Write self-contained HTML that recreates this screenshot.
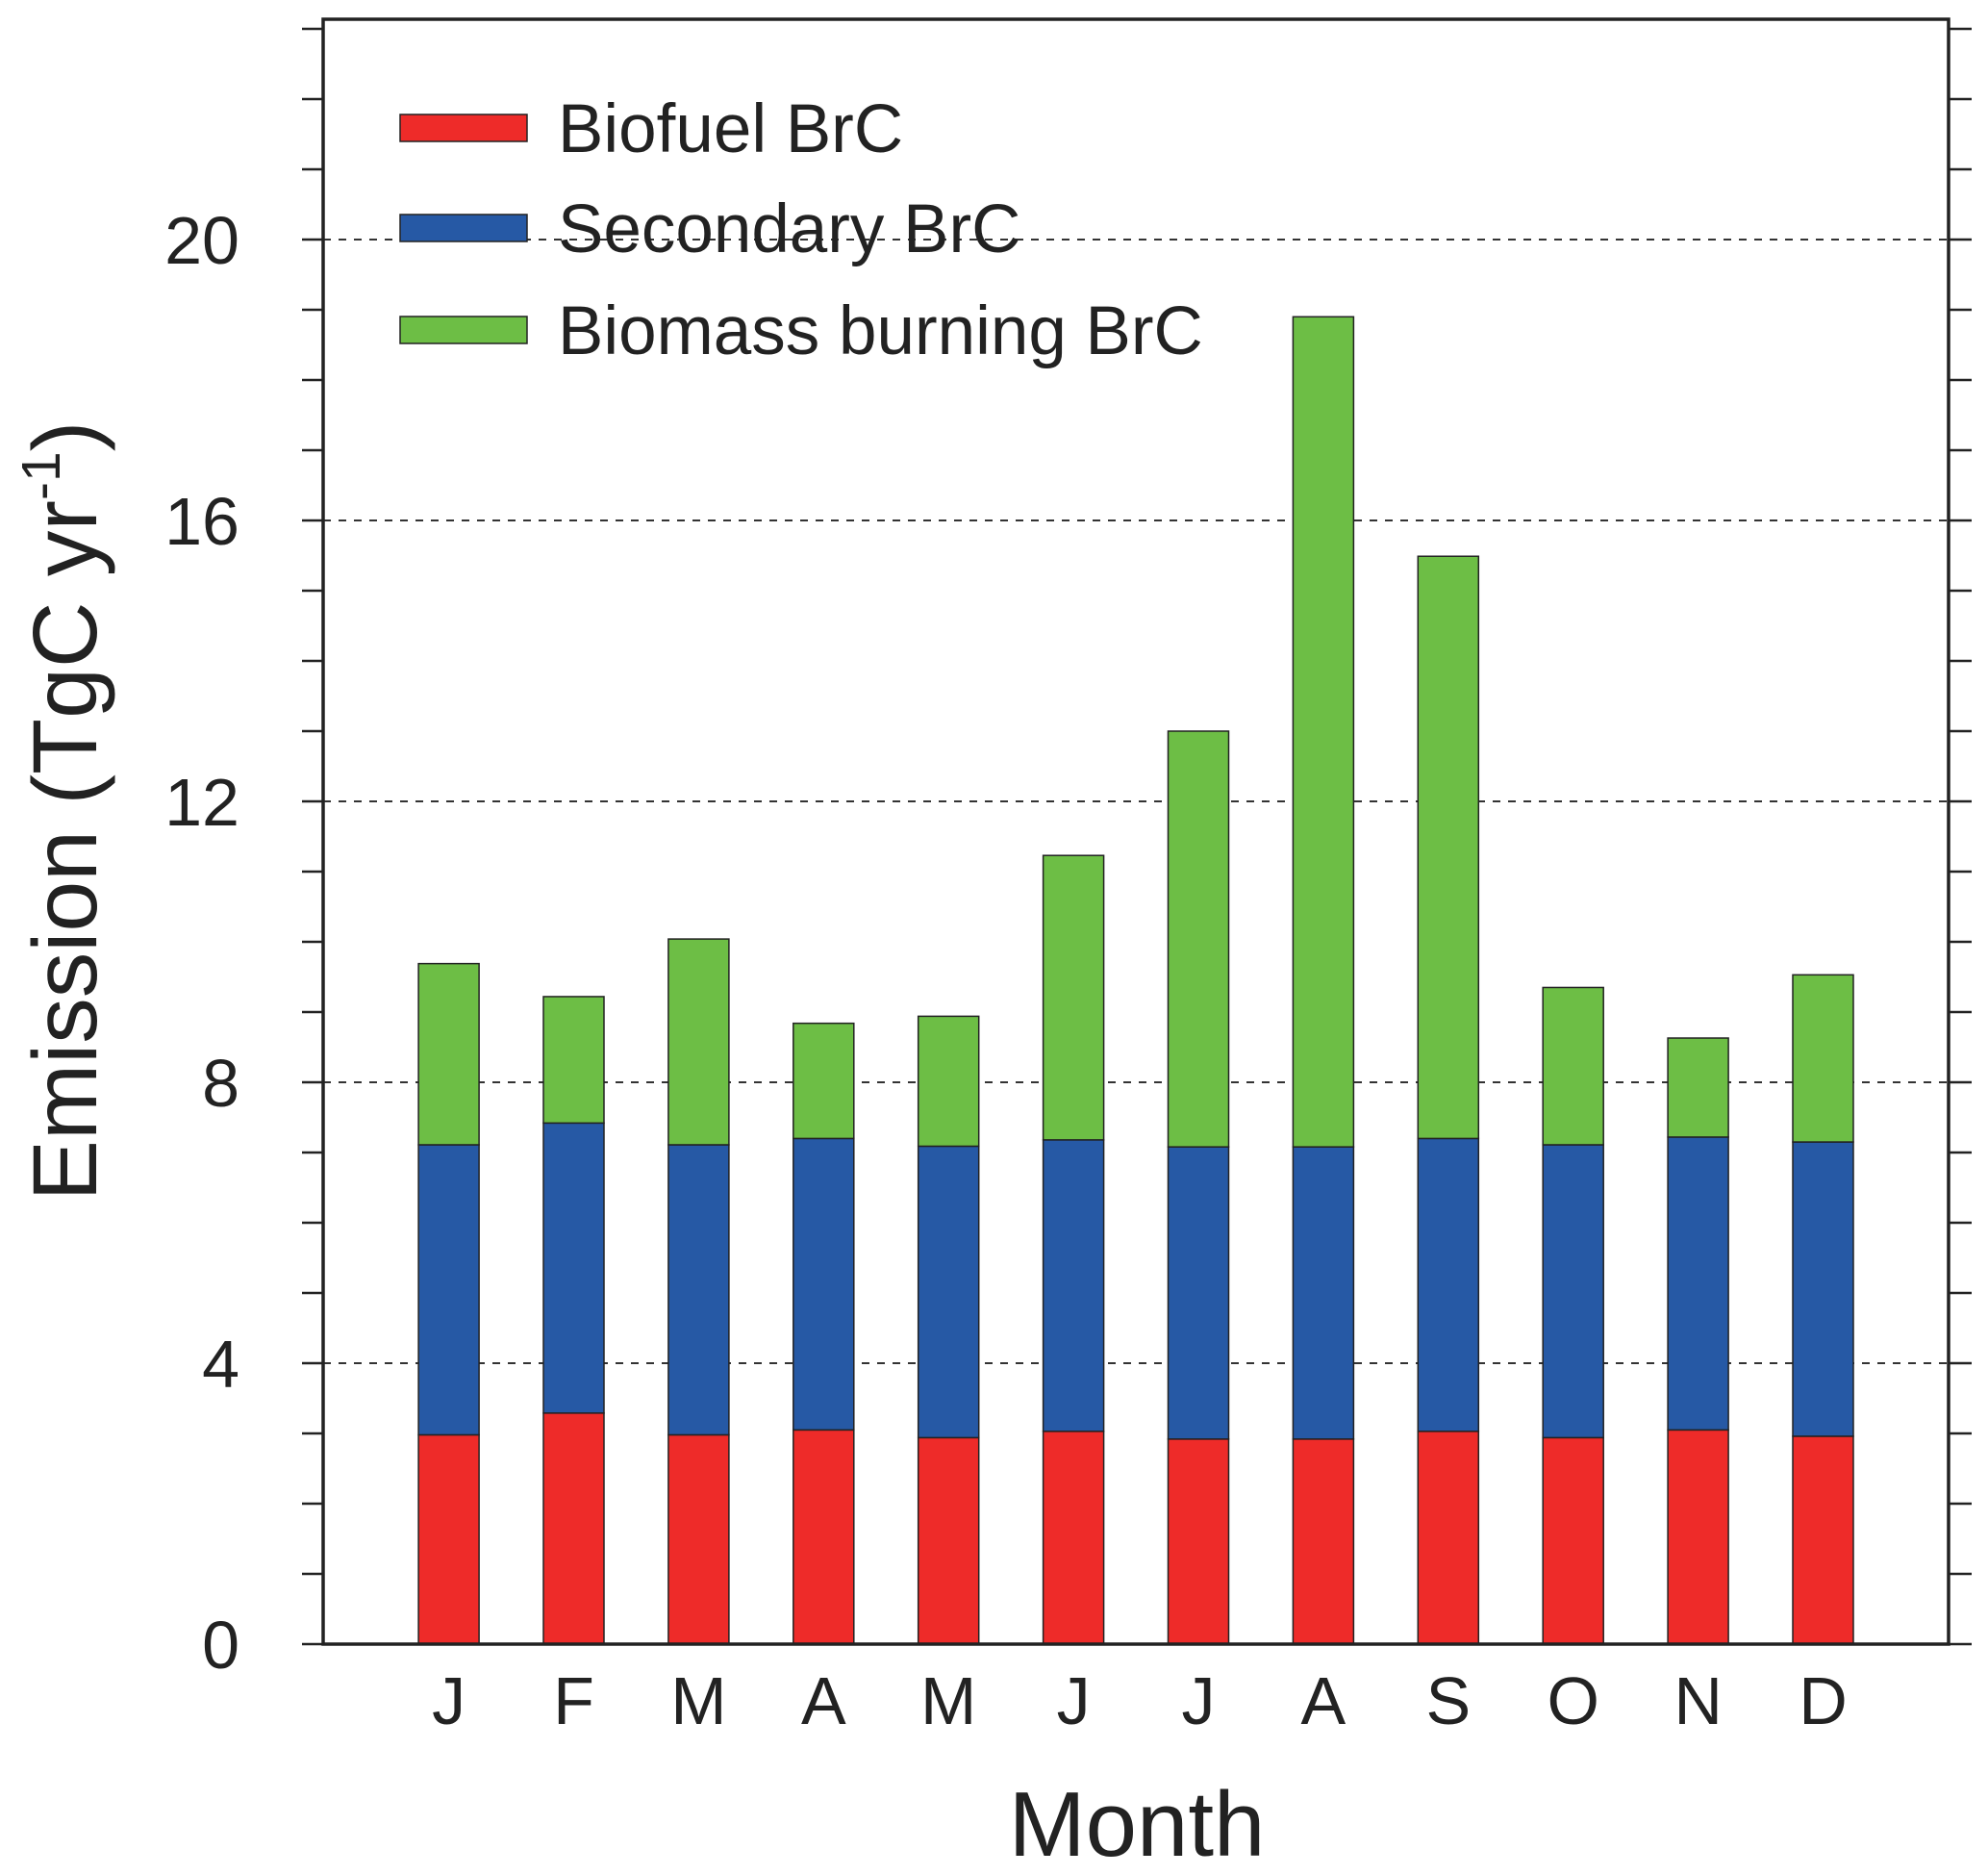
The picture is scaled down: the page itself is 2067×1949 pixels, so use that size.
<!DOCTYPE html>
<html><head><meta charset="utf-8"><style>
html,body{margin:0;padding:0;background:#fff;}
svg{display:block;font-family:"Liberation Sans",Arial,sans-serif;}
</style></head><body>
<svg id="chart" width="2067" height="1949" viewBox="0 0 2067 1949" xmlns="http://www.w3.org/2000/svg">
<g id="grid"></g><g id="bars"></g><g id="axes"></g><g id="legend"></g>
</svg>
<script>
const months = ["J","F","M","A","M","J","J","A","S","O","N","D"];
const biofuel = [2.98,3.29,2.98,3.05,2.94,3.03,2.92,2.92,3.03,2.94,3.05,2.96];
const secondary = [4.13,4.13,4.13,4.15,4.15,4.15,4.16,4.16,4.17,4.17,4.17,4.19];
const biomass = [2.58,1.80,2.93,1.64,1.85,4.05,5.92,11.82,8.29,2.24,1.41,2.38];
const yTicks = [0,4,8,12,16,20];
const seriesNames = ["Biofuel BrC","Secondary BrC","Biomass burning BrC"];
const seriesColors = ["#ee2b29","#2659a5","#6dbe45"];

const NS="http://www.w3.org/2000/svg";
const L=336,R=2026,T=20,B=1709,YMAX=(B-T)/73.0;
function y(v){return B-(v/YMAX)*(B-T);}
function x(i){return 466.6+i*129.9;}
const BW=63;
function mk(tag,attrs,parent,text){const e=document.createElementNS(NS,tag);for(const k in attrs)e.setAttribute(k,attrs[k]);if(text!==undefined)e.textContent=text;parent.appendChild(e);return e;}
const grid=document.getElementById('grid'),bars=document.getElementById('bars'),axes=document.getElementById('axes'),legend=document.getElementById('legend');

yTicks.forEach(v=>{if(v===0)return;
  const g=mk('line',{x1:L,x2:R,y1:y(v),y2:y(v),stroke:'#333','stroke-width':2,'stroke-dasharray':'8,8'},grid);
  
  
});

const series=[biofuel,secondary,biomass];
months.forEach((m,i)=>{
  let base=0;
  series.forEach((s,k)=>{
    const top=base+s[i];
    const r=mk('rect',{x:x(i)-BW/2,y:y(top),width:BW,height:y(base)-y(top),fill:seriesColors[k],stroke:'#222','stroke-width':1.5},bars);
    
    
    base=top;
  });
  const t=mk('text',{x:x(i),y:1792,'font-size':70,'text-anchor':'middle',fill:'#222'},axes,m);
  
  
});

for(let v=0;v<=Math.floor(YMAX);v++){
  const a=mk('line',{x1:L-22,x2:L,y1:y(v),y2:y(v),stroke:'#222','stroke-width':2.5},axes);
  
  
  const b=mk('line',{x1:R,x2:R+24,y1:y(v),y2:y(v),stroke:'#222','stroke-width':2.5},axes);
  
  
}
yTicks.forEach(v=>{
  const t=mk('text',{x:249,y:y(v)+25,'font-size':70,'text-anchor':'end',fill:'#222'},axes,String(v));
  
  
});
const frame=mk('rect',{x:L,y:T,width:R-L,height:B-T,fill:'none',stroke:'#222','stroke-width':3.5},axes);



const xt=mk('text',{x:1182,y:1929,'font-size':96,'text-anchor':'middle',fill:'#222'},axes,'Month');


const yt=mk('text',{x:0,y:0,'font-size':95,'text-anchor':'middle',fill:'#222',transform:'translate(100,843) rotate(-90)'},axes);


yt.appendChild(document.createTextNode('Emission (TgC yr'));
mk('tspan',{dy:-38,'font-size':57},yt,'-1');
mk('tspan',{dy:38},yt,')');

const ly=[133,237,343];
seriesNames.forEach((n,k)=>{
  const r=mk('rect',{x:416,y:ly[k]-14,width:132,height:28,fill:seriesColors[k],stroke:'#222','stroke-width':1.5},legend);
  
  
  const t=mk('text',{x:580,y:ly[k]+25,'font-size':71,fill:'#222'},legend,n);
  
  
});
</script>
</body></html>
